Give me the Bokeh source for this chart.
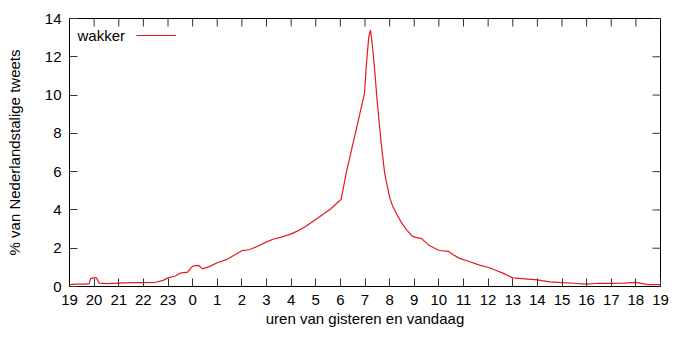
from bokeh.plotting import figure
from bokeh.models import FixedTicker, Range1d, Label, Legend, LegendItem
from bokeh.embed import file_html
from bokeh.resources import INLINE

# hours since 19:00 yesterday
hours = [0, 0.3, 0.6, 0.8, 0.85, 0.95, 1.1, 1.2, 1.5, 2.0, 2.5, 3.0, 3.5, 3.8,
         4.0, 4.3, 4.5, 4.8, 4.95, 5.05, 5.25, 5.4, 5.7, 6.0, 6.4, 6.7, 7.0,
         7.3, 7.6, 8.0, 8.3, 8.6, 9.0, 9.3, 9.6, 10.0, 10.3, 10.6, 10.9, 11.03,
         11.25, 11.5, 11.75, 11.98, 12.05, 12.15, 12.22, 12.3, 12.4, 12.5,
         12.66, 12.8, 13.0, 13.12, 13.3, 13.5, 13.7, 13.93, 14.1, 14.3, 14.6,
         15.0, 15.4, 15.6, 15.84, 16.2, 16.65, 17.06, 17.3, 17.6, 18.0, 18.5,
         19.0, 19.5, 20.0, 20.5, 21.0, 21.5, 22.0, 22.5, 23.0, 23.5, 24.0]
wakker = [0.10, 0.12, 0.12, 0.15, 0.40, 0.45, 0.45, 0.18, 0.15, 0.18, 0.20, 0.20,
          0.22, 0.32, 0.45, 0.55, 0.70, 0.75, 1.00, 1.08, 1.10, 0.92, 1.05, 1.24,
          1.42, 1.65, 1.87, 1.92, 2.08, 2.33, 2.48, 2.58, 2.75, 2.92, 3.15, 3.50,
          3.78, 4.05, 4.40, 4.55, 6.0, 7.4, 8.8, 10.1, 11.5, 13.0, 13.4, 12.6,
          11.2, 9.6, 7.45, 5.9, 4.67, 4.2, 3.75, 3.3, 2.95, 2.62, 2.55, 2.50,
          2.15, 1.88, 1.83, 1.65, 1.47, 1.32, 1.12, 0.98, 0.85, 0.70, 0.45,
          0.40, 0.35, 0.24, 0.20, 0.17, 0.12, 0.17, 0.16, 0.18, 0.22, 0.10, 0.10]

x_ticks = list(range(0, 25))
x_tick_labels = ["19", "20", "21", "22", "23", "0", "1", "2", "3", "4", "5", "6",
                 "7", "8", "9", "10", "11", "12", "13", "14", "15", "16", "17",
                 "18", "19"]
y_ticks = [0, 2, 4, 6, 8, 10, 12, 14]

FONT = "Liberation Sans"
FS = "15px"
X0, X1, Y0, Y1 = 0, 24, 0, 14
B_LEFT, B_RIGHT, B_TOP, B_BOTTOM = 69, 10, 18, 44
FRAME_W, FRAME_H = 591, 268
TICK = 8

p = figure(width=B_LEFT + FRAME_W + B_RIGHT, height=B_TOP + FRAME_H + B_BOTTOM,
           output_backend="svg", toolbar_location=None,
           x_range=Range1d(X0, X1), y_range=Range1d(Y0, Y1),
           min_border_left=B_LEFT, min_border_right=B_RIGHT, min_border_top=B_TOP,
           min_border_bottom=B_BOTTOM)
p.grid.visible = False
p.outline_line_color = "black"
p.outline_line_width = 1
p.background_fill_color = "white"
p.border_fill_color = "white"

r = p.line(hours, wakker, line_color="#e41a1c", line_width=1.2)

for ax in [p.xaxis[0], p.yaxis[0]]:
    ax.major_tick_in = TICK
    ax.major_tick_out = 0
    ax.minor_tick_in = 0
    ax.minor_tick_out = 0
    ax.axis_line_color = "black"
    ax.major_tick_line_color = "#333333"
    ax.major_label_text_font = FONT
    ax.major_label_text_font_size = FS
    ax.major_label_text_color = "black"
    ax.axis_label_text_font = FONT
    ax.axis_label_text_font_size = FS
    ax.axis_label_text_font_style = "normal"
    ax.axis_label_text_color = "black"

p.xaxis[0].ticker = FixedTicker(ticks=x_ticks)
p.xaxis[0].major_label_overrides = {t: l for t, l in zip(x_ticks, x_tick_labels)}
p.xaxis[0].major_label_standoff = 8
p.xaxis[0].axis_label = "uren van gisteren en vandaag"
p.xaxis[0].axis_label_standoff = 2

p.yaxis[0].ticker = FixedTicker(ticks=y_ticks)
p.yaxis[0].major_label_standoff = 8
p.yaxis[0].axis_label = "% van Nederlandstalige tweets"
p.yaxis[0].axis_label_standoff = 19

# mirrored ticks on top and right (gnuplot style), derived from the tick lists
dy = TICK * (Y1 - Y0) / FRAME_H
dx = TICK * (X1 - X0) / FRAME_W
p.segment(x0=x_ticks, y0=[Y1 - dy] * len(x_ticks), x1=x_ticks, y1=[Y1] * len(x_ticks),
          line_color="#333333", line_width=1)
p.segment(x0=[X1 - dx] * len(y_ticks), y0=y_ticks, x1=[X1] * len(y_ticks), y1=y_ticks,
          line_color="#333333", line_width=1)

# gnuplot-style key: title first, then line sample
KEY_FROM_TOP = 17
legend = Legend(items=[LegendItem(label=" ", renderers=[r])],
                location=(67, FRAME_H - KEY_FROM_TOP - 10),
                glyph_width=40, glyph_height=20, padding=0, margin=0, spacing=0,
                label_standoff=0, border_line_color=None, background_fill_alpha=0,
                label_text_font_size="1px")
p.add_layout(legend, "center")

p.add_layout(Label(x=8, y=FRAME_H - KEY_FROM_TOP, x_units="screen", y_units="screen",
                   text="wakker", text_font=FONT, text_font_size=FS,
                   text_baseline="middle", text_color="black"))

open("out.html", "w").write(file_html(p, INLINE))
